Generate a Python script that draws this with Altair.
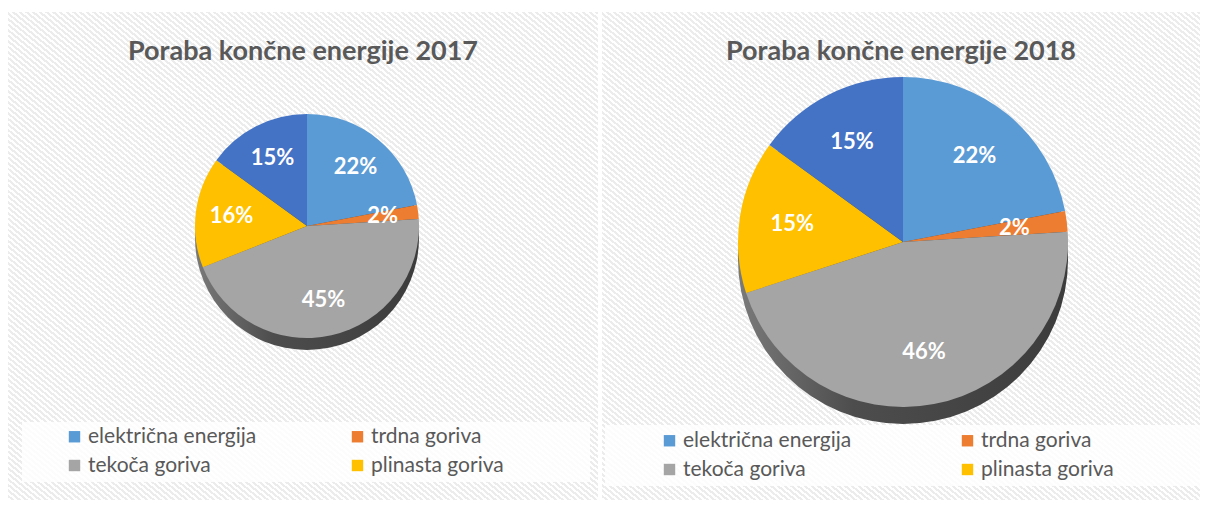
import altair as alt
import pandas as pd

categories = ["električna energija", "trdna goriva", "tekoča goriva", "plinasta goriva", "obnovljivi viri"]
# legend reads row by row: električna | trdna / tekoča | plinasta (filled column-wise)
legend_labels = ["električna energija", "tekoča goriva", "trdna goriva", "plinasta goriva"]
values_2017 = [22, 2, 45, 16, 15]
values_2018 = [22, 2, 46, 15, 15]
titles = ["Poraba končne energije 2017", "Poraba končne energije 2018"]
colors = ["#5B9BD5", "#ED7D31", "#A5A5A5", "#FFC000", "#4472C4"]

FONT = "Lato"
TXT = "#595959"

side_fill = alt.Gradient(
    gradient="linear", x1=0, y1=0, x2=1, y2=0,
    stops=[alt.GradientStop(offset=0, color="#7a7a7a"),
           alt.GradientStop(offset=0.35, color="#4d4d4d"),
           alt.GradientStop(offset=1, color="#3c3c3c")],
)


def hatch(n_periods):
    stops = []
    for i in range(n_periods):
        a = i / n_periods
        b = (i + 0.5) / n_periods
        c = (i + 1) / n_periods
        stops += [alt.GradientStop(offset=a, color="#ffffff"),
                  alt.GradientStop(offset=b, color="#ffffff"),
                  alt.GradientStop(offset=b, color="#ececec"),
                  alt.GradientStop(offset=c, color="#ececec")]
    return alt.Gradient(gradient="linear", x1=0, y1=1, x2=1, y2=0, stops=stops)


def panel(values, title, W, H, cx, cy, r, depth, box, lx, ly, colpad):
    df = pd.DataFrame({
        "kategorija": categories,
        "delez": values,
        "red": list(range(len(categories))),
        "oznaka": [f"{v}%" for v in values],
    })
    one = pd.DataFrame({"naslov": [title]})

    bg = alt.Chart(one).mark_rect(fill=hatch(int(W * 2 / 6.7))).encode(
        x=alt.value(0), x2=alt.value(W), y=alt.value(0), y2=alt.value(H)
    )
    box_layer = alt.Chart(one).mark_rect(color="white", opacity=0.85).encode(
        x=alt.value(box[0]), x2=alt.value(box[1]),
        y=alt.value(box[2]), y2=alt.value(box[3]),
    )
    side = alt.Chart(one).mark_arc(theta=0, theta2=6.2832, radius=r, fill=side_fill).encode(
        x=alt.value(cx), y=alt.value(cy + depth)
    )
    pie = alt.Chart(df).mark_arc(radius=r, strokeWidth=0).encode(
        theta=alt.Theta("delez:Q", stack=True),
        order=alt.Order("red:Q"),
        color=alt.Color(
            "kategorija:N",
            scale=alt.Scale(domain=categories, range=colors),
            legend=alt.Legend(
                orient="none", legendX=lx, legendY=ly, columns=2,
                columnPadding=colpad, rowPadding=7, title=None,
                values=legend_labels, symbolType="square", symbolSize=130,
                symbolStrokeWidth=0, labelFont=FONT, labelFontSize=21,
                labelColor=TXT, labelOffset=3, labelLimit=300, padding=0,
            ),
        ),
        x=alt.value(cx), y=alt.value(cy),
    )
    labels = alt.Chart(df).mark_text(
        radius=r * 0.68, font=FONT, fontSize=22, fontWeight="bold", color="white"
    ).encode(
        theta=alt.Theta("delez:Q", stack=True),
        order=alt.Order("red:Q"),
        text="oznaka:N",
        x=alt.value(cx), y=alt.value(cy),
    )
    head = alt.Chart(one).mark_text(
        font=FONT, fontSize=27, fontWeight="bold", color=TXT
    ).encode(text="naslov:N", x=alt.value(W / 2), y=alt.value(40))

    return alt.layer(bg, box_layer, side, pie, labels, head).properties(width=W, height=H)


left = panel(values_2017, titles[0], 590, 488, 299, 214, 112, 12,
             (14, 582, 410, 470), 56, 414, 90)
right = panel(values_2018, titles[1], 598, 488, 301, 230, 165, 17,
              (3, 598, 413, 474), 57, 418, 105)

chart = alt.hconcat(left, right, spacing=4).resolve_legend(color="independent").properties(
    padding={"left": 0, "top": 4, "right": 0, "bottom": 0},
    background="white",
).configure_view(fill=None, stroke=None)

chart.save("out.html", embed_options={"renderer": "svg", "actions": False})
